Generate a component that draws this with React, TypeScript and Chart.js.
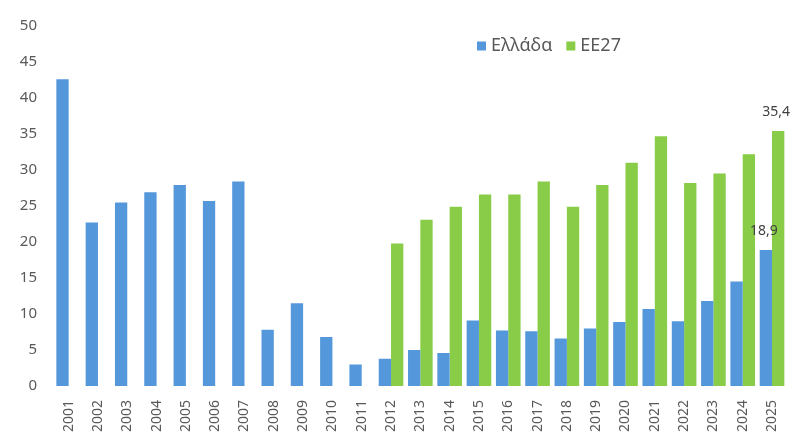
import React, { useEffect, useRef } from 'react';
import { Chart, registerables } from 'chart.js';

Chart.register(...registerables);

const years = ['2001', '2002', '2003', '2004', '2005', '2006', '2007', '2008', '2009', '2010', '2011', '2012', '2013', '2014', '2015', '2016', '2017', '2018', '2019', '2020', '2021', '2022', '2023', '2024', '2025'];
const greece = [42.6, 22.7, 25.5, 26.9, 27.9, 25.7, 28.4, 7.8, 11.5, 6.8, 3.0, 3.8, 5.0, 4.6, 9.1, 7.7, 7.6, 6.6, 8.0, 8.9, 10.7, 9.0, 11.8, 14.5, 18.9];
const eu27 = [null, null, null, null, null, null, null, null, null, null, null, 19.8, 23.1, 24.9, 26.6, 26.6, 28.4, 24.9, 27.9, 31.0, 34.7, 28.2, 29.5, 32.2, 35.4];
const seriesNames = ['Ελλάδα', 'ΕΕ27'];
const seriesColors = ['#5497DB', '#88CC48'];
const yMin = 0;
const yMax = 50;
const yStep = 5;
const labelledIndex = 24;

const FONT = "'Noto Sans', sans-serif";

const fmt = (v: number) => v.toFixed(1).replace('.', ',');

const customPlugin = {
  id: 'custom',
  afterDatasetsDraw(chart: any) {
    const ctx = chart.ctx;
    ctx.save();
    ctx.font = `14px ${FONT}`;
    ctx.fillStyle = '#404040';
    ctx.textAlign = 'center';
    ctx.textBaseline = 'middle';
    chart.data.datasets.forEach((ds: any, i: number) => {
      const meta = chart.getDatasetMeta(i);
      const el = meta.data[labelledIndex];
      const v = ds.data[labelledIndex];
      if (el && v != null) {
        ctx.fillText(fmt(v), el.x - 2, el.y - 19);
      }
    });
    // legend
    ctx.font = `18px ${FONT}`;
    ctx.textAlign = 'left';
    let x = 477;
    const yc = 46;
    chart.data.datasets.forEach((ds: any) => {
      ctx.fillStyle = ds.backgroundColor;
      ctx.fillRect(x, yc - 4.5, 9, 9);
      x += 14;
      ctx.fillStyle = '#595959';
      ctx.fillText(ds.label, x, yc);
      x += ctx.measureText(ds.label).width + 14;
    });
    ctx.restore();
  },
};

export default function App() {
  const ref = useRef<HTMLCanvasElement | null>(null);
  useEffect(() => {
    document.body.style.margin = '0';
    const canvas = ref.current;
    if (!canvas) return;
    const chart = new Chart(canvas, {
      type: 'bar',
      data: {
        labels: years,
        datasets: [
          { label: seriesNames[0], data: greece, backgroundColor: seriesColors[0] },
          { label: seriesNames[1], data: eu27 as any, backgroundColor: seriesColors[1] },
        ],
      },
      options: {
        responsive: false,
        animation: false,
        layout: { padding: { top: 24, right: 9, bottom: 0, left: 0 } },
        datasets: { bar: { categoryPercentage: 0.84, barPercentage: 1.0 } } as any,
        plugins: {
          legend: { display: false },
          tooltip: { enabled: false },
        },
        scales: {
          x: {
            grid: { display: false, drawTicks: false },
            border: { display: false },
            ticks: {
              font: { family: FONT, size: 14 },
              color: '#595959',
              minRotation: 90,
              maxRotation: 90,
              padding: 14,
              autoSkip: false,
            },
            afterFit(scale: any) {
              scale.height = 49;
            },
          },
          y: {
            min: yMin,
            max: yMax,
            grid: { display: false, drawTicks: false },
            border: { display: false },
            ticks: {
              stepSize: yStep,
              font: { family: FONT, size: 15 },
              color: '#595959',
              padding: 17,
            },
            afterFit(scale: any) {
              scale.width = 54;
            },
          },
        },
      },
      plugins: [customPlugin],
    });
    return () => chart.destroy();
  }, []);
  return (
    <div style={{ width: 803, height: 435, background: '#fff' }}>
      <canvas ref={ref} width={803} height={435} />
    </div>
  );
}
